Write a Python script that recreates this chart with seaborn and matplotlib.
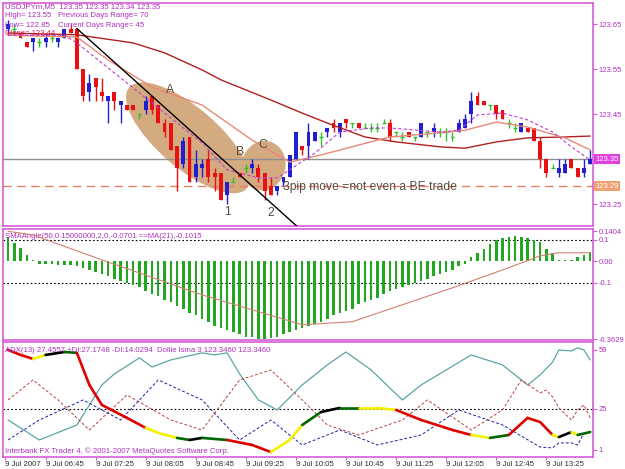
import numpy as np
import pandas as pd
import seaborn as sns
import matplotlib.pyplot as plt
import matplotlib.transforms as mtransforms
from matplotlib.patches import Ellipse

sns.set_style('white')
plt.rcParams['font.family'] = ['Liberation Sans', 'DejaVu Sans']

# ---------------- price bars (USDJPYm M5, 9 Jul 2007 from 06:15) ----------------
opens = [123.64, 123.64, 123.63, 123.61, 123.61, 123.61, 123.61, 123.62, 123.61, 123.62,
         123.64, 123.64, 123.55, 123.50, 123.53, 123.50, 123.48, 123.50, 123.47, 123.47,
         123.47, 123.45, 123.46, 123.49, 123.47, 123.43, 123.43, 123.38, 123.34, 123.40,
         123.31, 123.33, 123.35, 123.32, 123.32, 123.27, 123.30, 123.32, 123.33, 123.33,
         123.33, 123.32, 123.29, 123.28, 123.30, 123.31, 123.35, 123.38, 123.38, 123.39,
         123.40, 123.41, 123.43, 123.41, 123.44, 123.43, 123.43, 123.42, 123.42, 123.42,
         123.43, 123.43, 123.41, 123.40, 123.41, 123.40, 123.40, 123.41, 123.41, 123.41,
         123.41, 123.40, 123.41, 123.42, 123.45, 123.49, 123.48, 123.47, 123.47, 123.46,
         123.43, 123.42, 123.41, 123.42, 123.42, 123.39, 123.35, 123.33, 123.32, 123.32,
         123.35, 123.33, 123.32, 123.34]
highs = [123.66, 123.65, 123.63, 123.61, 123.62, 123.62, 123.63, 123.63, 123.62, 123.64,
         123.65, 123.64, 123.55, 123.54, 123.53, 123.53, 123.49, 123.50, 123.48, 123.47,
         123.47, 123.45, 123.49, 123.49, 123.47, 123.44, 123.43, 123.38, 123.40, 123.40,
         123.37, 123.35, 123.37, 123.33, 123.32, 123.30, 123.31, 123.32, 123.34, 123.35,
         123.34, 123.32, 123.31, 123.29, 123.31, 123.36, 123.41, 123.38, 123.43, 123.41,
         123.41, 123.42, 123.44, 123.43, 123.44, 123.43, 123.43, 123.43, 123.43, 123.43,
         123.44, 123.44, 123.41, 123.41, 123.41, 123.40, 123.43, 123.41, 123.43, 123.42,
         123.42, 123.41, 123.44, 123.45, 123.50, 123.50, 123.48, 123.47, 123.47, 123.46,
         123.44, 123.43, 123.43, 123.42, 123.42, 123.40, 123.35, 123.34, 123.35, 123.35,
         123.35, 123.33, 123.35, 123.37]
lows = [123.63, 123.63, 123.62, 123.60, 123.59, 123.60, 123.60, 123.61, 123.60, 123.62,
        123.63, 123.55, 123.48, 123.48, 123.48, 123.48, 123.43, 123.46, 123.43, 123.46,
        123.46, 123.44, 123.45, 123.45, 123.43, 123.40, 123.37, 123.28, 123.33, 123.30,
        123.30, 123.31, 123.30, 123.28, 123.26, 123.25, 123.30, 123.31, 123.32, 123.32,
        123.30, 123.26, 123.27, 123.27, 123.29, 123.31, 123.35, 123.36, 123.35, 123.39,
        123.38, 123.40, 123.41, 123.40, 123.42, 123.42, 123.42, 123.42, 123.41, 123.41,
        123.43, 123.39, 123.40, 123.39, 123.40, 123.39, 123.40, 123.40, 123.40, 123.40,
        123.39, 123.39, 123.41, 123.42, 123.43, 123.47, 123.47, 123.46, 123.44, 123.44,
        123.42, 123.41, 123.41, 123.41, 123.39, 123.33, 123.31, 123.33, 123.31, 123.32,
        123.33, 123.31, 123.31, 123.34]
closes = [123.65, 123.64, 123.62, 123.60, 123.62, 123.61, 123.62, 123.62, 123.62, 123.64,
          123.63, 123.55, 123.49, 123.52, 123.51, 123.49, 123.49, 123.48, 123.48, 123.46,
          123.46, 123.45, 123.48, 123.46, 123.43, 123.41, 123.37, 123.33, 123.39, 123.30,
          123.34, 123.34, 123.31, 123.31, 123.26, 123.30, 123.30, 123.31, 123.33, 123.34,
          123.31, 123.28, 123.27, 123.29, 123.31, 123.36, 123.41, 123.37, 123.41, 123.41,
          123.40, 123.42, 123.42, 123.43, 123.43, 123.43, 123.42, 123.42, 123.42, 123.42,
          123.43, 123.40, 123.41, 123.40, 123.40, 123.40, 123.43, 123.41, 123.42, 123.41,
          123.41, 123.40, 123.43, 123.44, 123.48, 123.47, 123.47, 123.47, 123.45, 123.44,
          123.43, 123.42, 123.43, 123.41, 123.39, 123.35, 123.32, 123.33, 123.33, 123.34,
          123.33, 123.31, 123.33, 123.35]

# moving averages on the price panel, read at a few bars
ma_slow_x = [0, 11, 20, 25, 31, 34, 42, 47, 51, 57, 62, 69, 73, 78, 83, 89, 93]
ma_slow_y = [123.63, 123.626, 123.608, 123.586, 123.548, 123.526, 123.481, 123.452, 123.43,
             123.399, 123.388, 123.377, 123.374, 123.388, 123.397, 123.399, 123.401]
ma_mid_x = [0, 11, 16, 23, 31, 39, 45, 50, 56, 61, 69, 73, 78, 83, 89, 93]
ma_mid_y = [123.625, 123.621, 123.57, 123.51, 123.47, 123.392, 123.343, 123.359, 123.381,
            123.399, 123.408, 123.414, 123.432, 123.421, 123.397, 123.37]
ma_fast_x = [0, 9, 11, 20, 31, 35, 40, 43, 45, 49, 53, 58, 61, 69, 72, 75, 79, 83, 87, 90, 93]
ma_fast_y = [123.625, 123.625, 123.608, 123.508, 123.386, 123.326, 123.308, 123.308, 123.326,
             123.363, 123.41, 123.419, 123.419, 123.41, 123.414, 123.448, 123.452, 123.437,
             123.41, 123.377, 123.348]
trend_x = [11, 47]
trend_y = [123.64, 123.19]
bid_price = 123.35
stop_price = 123.29

# ---------------- SMAAngle histogram + MA(21) ----------------
angle = [0.114, 0.086, 0.063, 0.03, 0.007, -0.01, -0.012, -0.014, -0.015, -0.015,
         -0.016, -0.02, -0.03, -0.04, -0.05, -0.06, -0.07, -0.08, -0.09, -0.10,
         -0.11, -0.12, -0.14, -0.15, -0.16, -0.18, -0.19, -0.21, -0.22, -0.24,
         -0.25, -0.27, -0.28, -0.30, -0.31, -0.32, -0.33, -0.34, -0.35, -0.35,
         -0.36, -0.36, -0.355, -0.35, -0.34, -0.33, -0.32, -0.31, -0.30, -0.29,
         -0.28, -0.27, -0.25, -0.24, -0.23, -0.22, -0.20, -0.19, -0.18, -0.17,
         -0.15, -0.14, -0.13, -0.12, -0.11, -0.10, -0.09, -0.08, -0.07, -0.06,
         -0.05, -0.04, -0.02, -0.01, 0.02, 0.04, 0.06, 0.08, 0.10, 0.11,
         0.115, 0.12, 0.115, 0.11, 0.10, 0.09, 0.06, 0.04, 0.005, 0.005,
         0.005, 0.02, 0.03, 0.045]
angle_ma_x = [0, 4, 15, 31, 47, 55, 63, 71, 79, 85, 88, 93]
angle_ma_y = [0.14, 0.123, 0.007, -0.156, -0.295, -0.281, -0.202, -0.123, -0.04, 0.026, 0.04, 0.04]

# ---------------- ADX panel ----------------
teal_x = [0, 5, 11, 15, 17, 21, 23, 26, 31, 33, 35, 37, 40, 43, 47, 51, 54, 58, 63, 66, 70,
          74, 79, 83, 85, 87, 88, 90, 91, 92, 93]
teal_y = [18.4, 6.8, 15.5, 38.7, 45.1, 54.4, 49.1, 53.2, 57.3, 56.1, 57.3, 45.1, 30, 24.2,
          38.7, 50.3, 57.8, 47.4, 30, 38.7, 47.4, 56.1, 50.3, 38.7, 44.5, 52, 59, 58.4, 60.2,
          59, 53.2]
mdi_x = [0, 4, 8, 13, 19, 26, 31, 37, 42, 47, 51, 56, 63, 67, 74, 79, 82, 85, 86, 87, 88,
         90, 91, 92, 93]
mdi_y = [30, 41.6, 30, 12.6, 32.9, 18.4, 12.6, 41.6, 47.4, 30, 15.5, 9.7, 18.4, 30, 12.6,
         24.2, 41.6, 34.1, 35.8, 31.7, 25.4, 18.4, 24.2, 27.1, 19.6]
pdi_x = [0, 5, 12, 18, 24, 31, 37, 42, 47, 53, 59, 66, 72, 79, 85, 87, 88, 90, 91, 92]
pdi_y = [6.8, 18.4, 30, 18.4, 41.6, 30, 6.8, 18.4, 3.9, 12.6, 3.9, 9.7, 24.2, 15.5, 2.7,
         2.2, 5.1, 5.1, 3.9, 10.9]
adx_x = [0, 2, 4, 6, 9, 11, 13, 15, 19, 22, 24, 27, 29, 31, 35, 39, 42, 45, 47, 50, 53,
         56, 59, 62, 66, 71, 74, 77, 80, 83, 85, 87, 88, 90, 91, 93]
adx_y = [59, 56.1, 53.8, 56.1, 57.8, 57.3, 38.7, 27.1, 19.6, 13.8, 10.9, 8, 6.8, 8, 6.8,
         3.9, -0.2, 6.8, 15.5, 23, 25.4, 25.4, 25.4, 24.2, 18.4, 12.6, 9.7, 8, 9.7, 19.6,
         17.2, 9.7, 8.5, 11.4, 9.7, 11.4]
adx_col = ['r', 'r', 'y', 'k', 'g', 'r', 'r', 'r', 'r', 'y', 'y', 'g', 'k', 'g', 'r', 'r',
           'y', 'y', 'g', 'k', 'g', 'y', 'y', 'r', 'r', 'r', 'y', 'g', 'r', 'r', 'r', 'y',
           'k', 'y', 'g']

time_ticks = [6, 14, 22, 30, 38, 46, 54, 62, 70, 78, 86]
time_labels = ['9 Jul 06:45', '9 Jul 07:25', '9 Jul 08:05', '9 Jul 08:45', '9 Jul 09:25',
               '9 Jul 10:05', '9 Jul 10:45', '9 Jul 11:25', '9 Jul 12:05', '9 Jul 12:45',
               '9 Jul 13:25']

frame = '#d65cd6'
lab = '#b030c0'
bull, bear, doji = '#2020d0', '#e81010', '#30c030'
tan = '#d4aa80'
note = '#5c4a3c'

fig = plt.figure(figsize=(6.25, 4.69), dpi=100)
ax1 = fig.add_axes([0.0048, 0.5181, 0.944, 0.4755])
ax2 = fig.add_axes([0.0048, 0.2751, 0.944, 0.2367])
ax3 = fig.add_axes([0.0048, 0.0256, 0.944, 0.2452])
for ax in (ax1, ax2, ax3):
    for s in ax.spines.values():
        s.set_color(frame)
        s.set_linewidth(1.2)
    ax.yaxis.tick_right()
    ax.tick_params(axis='y', right=True, colors=frame, labelcolor=lab, labelsize=5.5,
                   length=3, width=0.8, pad=1)
    ax.tick_params(axis='x', bottom=False, labelbottom=False)

# ---- price panel
df = pd.DataFrame({'o': opens, 'h': highs, 'l': lows, 'c': closes})
df['i'] = np.arange(len(df))
df['col'] = np.where(df.c > df.o, bull, np.where(df.c < df.o, bear, doji))

def blob(ax, x, y, w, h, ang):
    tr = fig.dpi_scale_trans + mtransforms.ScaledTranslation(x, y, ax.transData)
    ax.add_patch(Ellipse((0, 0), w, h, angle=ang, transform=tr, fc=tan, ec='none', zorder=1))

blob(ax1, 28.75, 123.397, 1.55, 0.6, -40.7)
blob(ax1, 40.8, 123.335, 0.44, 0.5, -15)

ax1.axhline(bid_price, color='#909090', lw=1, zorder=2)
ax1.axhline(stop_price, color='#e0826a', lw=1, dashes=(6, 4), zorder=2)
ax1.vlines(df.i, df.l, df.h, colors=df.col, lw=1, zorder=3)
body = df[df.c != df.o]
ax1.bar(body.i, (body.c - body.o).abs(), bottom=body[['o', 'c']].min(axis=1), width=0.62,
        color=body.col, lw=0, zorder=4)
dj = df[df.c == df.o]
ax1.hlines(dj.c, dj.i - 0.31, dj.i + 0.31, colors=dj.col, lw=1, zorder=4)

sns.lineplot(x=ma_slow_x, y=ma_slow_y, ax=ax1, color='#b02020', lw=1, zorder=5)
sns.lineplot(x=ma_mid_x, y=ma_mid_y, ax=ax1, color='#e88a7a', lw=1, zorder=5)
sns.lineplot(x=ma_fast_x, y=ma_fast_y, ax=ax1, color='#c040d0', lw=0.8, linestyle=(0, (3, 2)), zorder=5)
sns.lineplot(x=trend_x, y=trend_y, ax=ax1, color='black', lw=1, zorder=6)

ax1.set_xlim(-0.8, 93.45)
ax1.set_ylim(123.2011, 123.6967)
ax1.set_yticks([123.25, 123.45, 123.55, 123.65])
ax1.set_yticklabels(['123.25', '123.45', '123.55', '123.65'])
side = mtransforms.blended_transform_factory(ax1.transAxes, ax1.transData)
ax1.text(1.004, bid_price, '123.35', transform=side, color='white', fontsize=5.5, va='center',
         ha='left', clip_on=False, bbox=dict(boxstyle='square,pad=0.15', fc='#e040e0', ec='none'))
ax1.text(1.004, stop_price, '123.29', transform=side, color='white', fontsize=5.5, va='center',
         ha='left', clip_on=False, bbox=dict(boxstyle='square,pad=0.15', fc='#f0a070', ec='none'))

for t, x, y in [('A', 25.9, 123.503), ('B', 37.1, 123.366), ('C', 40.7, 123.381),
                ('1', 35.1, 123.232), ('2', 42.0, 123.23)]:
    ax1.text(x, y, t, color=note, fontsize=8.7, ha='center', va='center', zorder=7)
ax1.text(43.9, 123.288, '3pip move =not even a BE trade', color=note, fontsize=8.7,
         ha='left', va='center', zorder=7)

info = [(0.0034, 0.982, 'USDJPYm,M5  123.35 123.35 123.34 123.35', lab),
        (0.0034, 0.942, 'High= 123.55', lab), (0.093, 0.942, 'Previous Days Range= 70', lab),
        (0.0034, 0.901, 'Low= 122.85', lab), (0.093, 0.901, 'Current Days Range= 45', lab),
        (0.0034, 0.865, 'Close= 123.44', '#e02060')]
for x, y, t, c in info:
    ax1.text(x, y, t, transform=ax1.transAxes, color=c, fontsize=5.6, va='center', zorder=8)

# ---- SMAAngle panel
ax2.bar(np.arange(len(angle)), angle, width=0.4, color='#20a820', lw=0, zorder=3)
sns.lineplot(x=angle_ma_x, y=angle_ma_y, ax=ax2, color='#d08070', lw=0.8, zorder=4)
for lv in (0.1, -0.1):
    ax2.axhline(lv, color='black', lw=0.8, ls=(0, (1.5, 2)), zorder=2)
ax2.set_xlim(-0.8, 93.45)
ax2.set_ylim(-0.366, 0.151)
ax2.set_yticks([0.1404, 0.1, 0.0, -0.1, -0.3629])
ax2.set_yticklabels(['0.1404', '0.1', '0.00', '-0.1', '-0.3629'])
ax2.text(0.0034, 0.928, 'SMAAngle(50,0.15000000,2,0,-0.0701 ==MA(21),-0.1015',
         transform=ax2.transAxes, color=lab, fontsize=5.6, va='center')

# ---- ADX panel
ax3.axhline(25, color='black', lw=0.8, ls=(0, (1.5, 2)), zorder=2)
sns.lineplot(x=teal_x, y=teal_y, ax=ax3, color='#5aa5a8', lw=0.9, zorder=3)
sns.lineplot(x=mdi_x, y=mdi_y, ax=ax3, color='#c04040', lw=0.7, linestyle=(0, (3, 2)), zorder=3)
sns.lineplot(x=pdi_x, y=pdi_y, ax=ax3, color='#2020a0', lw=0.7, linestyle=(0, (3, 2)), zorder=3)
cmap = {'r': '#e00000', 'y': '#f4f000', 'g': '#006800', 'k': '#000000'}
for k in range(len(adx_col)):
    ax3.plot(adx_x[k:k + 2], adx_y[k:k + 2], color=cmap[adx_col[k]], lw=1.9,
             solid_capstyle='round', zorder=4)
ax3.set_xlim(-0.8, 93.45)
ax3.set_ylim(-3.06, 63.6)
ax3.set_yticks([59, 25, 1])
ax3.set_yticklabels(['59', '25', '1'])
ax3.tick_params(axis='x', bottom=True, labelbottom=True, colors=frame, labelcolor='#303030',
                labelsize=5.6, length=2, width=0.8, pad=1)
ax3.set_xticks([-0.5] + time_ticks)
ax3.set_xticklabels(['9 Jul 2007'] + time_labels, ha='left')
ax3.text(0.0034, 0.922, 'ADX(13) 27.4557 +DI:27.1748 -DI:14.0294  Dollie lsma 3 123.3460 123.3460',
         transform=ax3.transAxes, color=lab, fontsize=5.6, va='center', zorder=6)
ax3.text(0.0034, 0.052, 'Interbank FX Trader 4, \u00a9 2001-2007 MetaQuotes Software Corp.',
         transform=ax3.transAxes, color=lab, fontsize=5.6, va='center', zorder=6)

fig.savefig('out.png', dpi=100)
